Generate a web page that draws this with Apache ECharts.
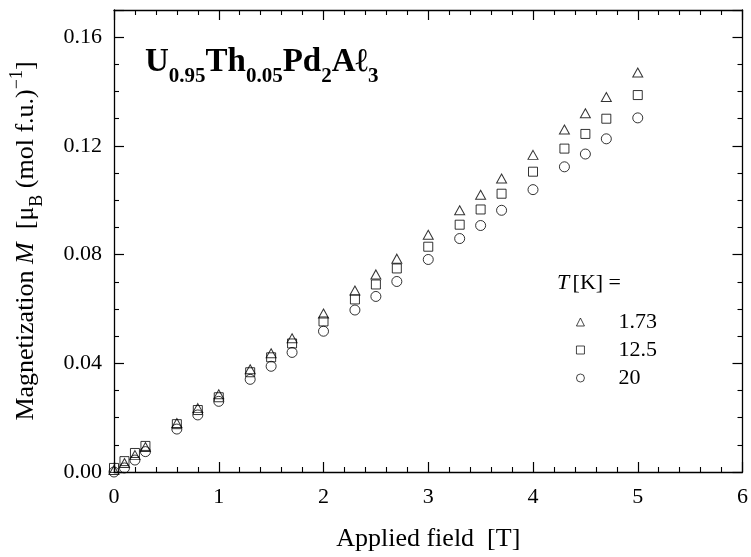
<!DOCTYPE html>
<html>
<head>
<meta charset="utf-8">
<script src="https://cdn.jsdelivr.net/npm/echarts@6/dist/echarts.min.js"></script>
<style>html,body{margin:0;padding:0;background:#fff}#c{width:751px;height:557px}</style>
</head>
<body>
<div id="c"></div>
<script>
const fieldT = [0, 0.1, 0.2, 0.3, 0.6, 0.8, 1.0, 1.3, 1.5, 1.7, 2.0, 2.3, 2.5, 2.7, 3.0, 3.3, 3.5, 3.7, 4.0, 4.3, 4.5, 4.7, 5.0];
const m_173K = [0.0007, 0.0033, 0.0062, 0.0092, 0.0180, 0.0235, 0.0286, 0.0378, 0.0437, 0.0492, 0.0583, 0.0668, 0.0727, 0.0785, 0.0873, 0.0963, 0.1020, 0.1080, 0.1167, 0.1260, 0.1320, 0.1380, 0.1470];
const m_125K = [0.0015, 0.0040, 0.0070, 0.0096, 0.0176, 0.0228, 0.0275, 0.0367, 0.0422, 0.0473, 0.0554, 0.0635, 0.0690, 0.0749, 0.0829, 0.0910, 0.0966, 0.1024, 0.1105, 0.1190, 0.1244, 0.1300, 0.1387];
const m_20K  = [0.0000, 0.0015, 0.0044, 0.0075, 0.0158, 0.0210, 0.0260, 0.0341, 0.0389, 0.0440, 0.0518, 0.0596, 0.0646, 0.0701, 0.0782, 0.0859, 0.0907, 0.0963, 0.1039, 0.1123, 0.1170, 0.1226, 0.1303];
const seriesNames = ['1.73', '12.5', '20'];
const xTicks = [0, 1, 2, 3, 4, 5, 6];
const yTicks = [0, 0.04, 0.08, 0.12, 0.16];

const FONT = "'Liberation Serif', 'DejaVu Serif', serif";
const pairs = (ys) => fieldT.map((x, i) => [x, ys[i]]);

const axisCommon = {
  type: 'value',
  axisLine: { show: true, onZero: false, lineStyle: { color: '#000', width: 1.3 } },
  axisTick: { show: true, inside: true, length: 10, lineStyle: { color: '#000', width: 1.2 } },
  minorTick: { show: true, length: 5, lineStyle: { color: '#000', width: 1.1 } },
  splitLine: { show: false },
  minorSplitLine: { show: false },
};
const labelStyle = { color: '#000', fontFamily: FONT, fontSize: 22 };

const chart = echarts.init(document.getElementById('c'), null, { renderer: 'canvas' });
const hollow = { color: 'rgba(255,255,255,0)', borderColor: '#000', borderWidth: 1 };

chart.setOption({
  animation: false,
  backgroundColor: '#fff',
  title: {
    text: '{b|U}{s|0.95}{b|Th}{s|0.05}{b|Pd}{s|2}{b|Aℓ}{s|3}',
    left: 140, top: 41,
    textStyle: {
      rich: {
        b: { fontFamily: FONT, fontWeight: 'bold', fontSize: 33, lineHeight: 33, color: '#000', verticalAlign: 'top' },
        s: { fontFamily: FONT, fontWeight: 'bold', fontSize: 21, lineHeight: 21, color: '#000', verticalAlign: 'top', padding: [20, 0, 0, 0] }
      }
    }
  },
  grid: { left: 113, right: 2, top: 10, bottom: 83, containLabel: false },
  xAxis: [
    Object.assign({}, axisCommon, {
      position: 'bottom', min: 0, max: 6, interval: 1,
      minorTick: Object.assign({}, axisCommon.minorTick, { splitNumber: 5 }),
      axisLabel: Object.assign({ margin: 14, formatter: v => xTicks.includes(v) ? String(v) : '' }, labelStyle),
      name: 'Applied field  [T]', nameLocation: 'middle', nameGap: 54,
      nameTextStyle: { color: '#000', fontFamily: FONT, fontSize: 26 }
    }),
    Object.assign({}, axisCommon, {
      position: 'top', min: 0, max: 6, interval: 1,
      minorTick: Object.assign({}, axisCommon.minorTick, { splitNumber: 5 }),
      axisLabel: { show: false }
    })
  ],
  yAxis: [
    Object.assign({}, axisCommon, {
      position: 'left', min: 0, max: 0.17, interval: 0.04,
      minorTick: Object.assign({}, axisCommon.minorTick, { splitNumber: 4 }),
      axisLabel: Object.assign({ margin: 12, formatter: v => yTicks.some(t => Math.abs(t - v) < 1e-9) ? v.toFixed(2) : '' }, labelStyle),
      name: '{n|Magnetization }{i|M}{n|  [μ}{sub|B}{n| (mol f.u.)}{sup|−1}{n|]}',
      nameLocation: 'middle', nameGap: 77, nameRotate: 90,
      nameTextStyle: {
        rich: {
          n: { fontFamily: FONT, fontSize: 26, color: '#000', verticalAlign: 'top', lineHeight: 29, padding: [5, 0, 0, 0] },
          i: { fontFamily: FONT, fontSize: 26, fontStyle: 'italic', color: '#000', verticalAlign: 'top', lineHeight: 29, padding: [5, 0, 0, 0] },
          sub: { fontFamily: FONT, fontSize: 18, color: '#000', verticalAlign: 'top', lineHeight: 18, padding: [20, 0, 0, 0] },
          sup: { fontFamily: FONT, fontSize: 18, color: '#000', verticalAlign: 'top', lineHeight: 18, padding: [0, 0, 0, 0] }
        }
      }
    }),
    Object.assign({}, axisCommon, {
      position: 'right', min: 0, max: 0.17, interval: 0.04,
      minorTick: Object.assign({}, axisCommon.minorTick, { splitNumber: 4 }),
      axisLabel: { show: false }
    })
  ],
  legend: {
    left: 571, top: 306, orient: 'vertical',
    itemWidth: 8, itemHeight: 8, itemGap: 6,
    data: seriesNames,
    itemStyle: { borderWidth: 0.9 },
    textStyle: { color: '#000', fontFamily: FONT, fontSize: 22, lineHeight: 22, padding: [0, 0, 0, 29] }
  },
  graphic: [{
    type: 'text', left: 557, top: 272,
    style: {
      text: '{i|T} {n|[K] =}',
      rich: {
        i: { fontFamily: FONT, fontSize: 22, fontStyle: 'italic', fill: '#000' },
        n: { fontFamily: FONT, fontSize: 22, fill: '#000' }
      }
    }
  }],
  series: [
    { name: seriesNames[0], type: 'scatter', symbol: 'triangle', symbolSize: [10, 9], clip: false, itemStyle: hollow, data: pairs(m_173K) },
    { name: seriesNames[1], type: 'scatter', symbol: 'rect', symbolSize: 9, clip: false, itemStyle: hollow, data: pairs(m_125K) },
    { name: seriesNames[2], type: 'scatter', symbol: 'circle', symbolSize: 10, clip: false, itemStyle: hollow, data: pairs(m_20K) }
  ]
});
</script>
</body>
</html>
